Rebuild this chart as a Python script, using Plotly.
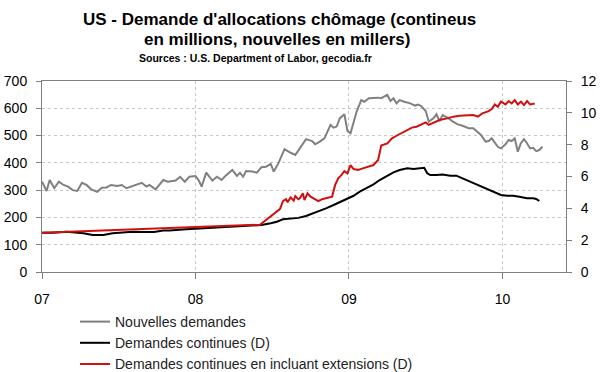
import plotly.graph_objects as go

# ---- data (decimal years) ----
new_x = [2007.00, 2007.03, 2007.05, 2007.08, 2007.11, 2007.14, 2007.17, 2007.20, 2007.23, 2007.26,
         2007.29, 2007.32, 2007.36, 2007.39, 2007.42, 2007.45, 2007.49, 2007.52, 2007.55, 2007.58,
         2007.62, 2007.65, 2007.68, 2007.70, 2007.74, 2007.77, 2007.79, 2007.82,
         2007.87, 2007.90, 2007.93, 2007.96, 2008.00, 2008.02, 2008.04, 2008.07, 2008.11, 2008.14,
         2008.17, 2008.20, 2008.24, 2008.27, 2008.29, 2008.31, 2008.33, 2008.37, 2008.40, 2008.43,
         2008.46, 2008.49, 2008.51, 2008.54, 2008.56, 2008.58, 2008.62, 2008.65, 2008.67,
         2008.70, 2008.72, 2008.76, 2008.78, 2008.81, 2008.84, 2008.88, 2008.90, 2008.92, 2008.94,
         2008.97, 2008.99, 2009.01, 2009.03, 2009.05, 2009.08, 2009.10, 2009.13, 2009.16, 2009.19,
         2009.21, 2009.25, 2009.27, 2009.29, 2009.31, 2009.33, 2009.36, 2009.40, 2009.43, 2009.45,
         2009.47, 2009.50, 2009.52, 2009.55, 2009.57, 2009.59, 2009.61, 2009.65, 2009.68, 2009.71,
         2009.74, 2009.78, 2009.81, 2009.84, 2009.86, 2009.89, 2009.91, 2009.93, 2009.95, 2009.97,
         2009.99, 2010.02, 2010.04, 2010.06, 2010.08, 2010.10, 2010.12, 2010.14, 2010.16, 2010.18,
         2010.20, 2010.22, 2010.24, 2010.26]
new_claims = [331, 297, 337, 307, 331, 319, 313, 300, 297, 327,
              319, 303, 294, 309, 310, 319, 315, 319, 307, 313,
              322, 327, 313, 319, 303, 321, 337, 331,
              335, 349, 331, 349, 352, 337, 313, 364, 335, 349,
              337, 355, 374, 352, 364, 349, 370, 368, 364, 384,
              386, 396, 368, 398, 423, 450, 437, 429, 445,
              468, 487, 480, 468, 478, 490, 539, 529, 533, 563,
              578, 517, 508, 551, 588, 630, 624, 637, 639, 639,
              637, 649, 627, 637, 618, 630, 624, 618, 610, 614,
              608, 590, 551, 563, 578, 553, 575, 563, 550, 541,
              536, 527, 527, 514, 502, 478, 480, 490, 472, 459,
              453, 468, 484, 480, 490, 441, 472, 487, 472, 453,
              455, 443, 447, 459]

cont_x = [2007.00, 2007.07, 2007.16, 2007.23, 2007.27, 2007.33, 2007.40, 2007.46, 2007.53, 2007.59,
          2007.66, 2007.73, 2007.79, 2007.83, 2007.94, 2008.05, 2008.16, 2008.27, 2008.38, 2008.43,
          2008.49, 2008.53, 2008.57, 2008.62, 2008.67, 2008.72, 2008.77, 2008.81, 2008.85, 2008.90,
          2008.94, 2008.99, 2009.03, 2009.07, 2009.12, 2009.16, 2009.20, 2009.25, 2009.29, 2009.33,
          2009.38, 2009.42, 2009.46, 2009.49, 2009.51, 2009.53, 2009.57, 2009.61, 2009.66, 2009.70,
          2009.74, 2009.79, 2009.83, 2009.87, 2009.92, 2009.96, 2009.99, 2010.03, 2010.07, 2010.11,
          2010.16, 2010.20, 2010.22, 2010.24]
cont_claims = [2.47, 2.47, 2.53, 2.49, 2.43, 2.32, 2.32, 2.43, 2.49, 2.53,
               2.51, 2.51, 2.60, 2.60, 2.68, 2.74, 2.81, 2.89, 2.95, 2.95,
               3.06, 3.16, 3.31, 3.37, 3.40, 3.52, 3.69, 3.83, 4.00, 4.21,
               4.38, 4.63, 4.79, 5.05, 5.30, 5.51, 5.78, 6.05, 6.26, 6.41,
               6.51, 6.47, 6.51, 6.55, 6.20, 6.09, 6.09, 6.13, 6.05, 6.05,
               5.88, 5.67, 5.51, 5.36, 5.15, 5.00, 4.84, 4.79, 4.79, 4.73,
               4.63, 4.63, 4.59, 4.46]

ext_x = [2007.00, 2008.42, 2008.55, 2008.57, 2008.59, 2008.60, 2008.62, 2008.64, 2008.65, 2008.67,
         2008.68, 2008.70, 2008.71, 2008.73, 2008.75, 2008.77, 2008.80, 2008.83, 2008.87, 2008.89,
         2008.91, 2008.93, 2008.95, 2008.97, 2008.99, 2009.01, 2009.03, 2009.06, 2009.09, 2009.13,
         2009.16, 2009.19, 2009.21, 2009.25, 2009.28, 2009.31, 2009.34, 2009.38, 2009.41, 2009.44,
         2009.47, 2009.50, 2009.52, 2009.56, 2009.59, 2009.64, 2009.68, 2009.72, 2009.77, 2009.81,
         2009.84, 2009.87, 2009.91, 2009.93, 2009.95, 2009.97, 2009.99, 2010.02, 2010.04, 2010.06,
         2010.08, 2010.10, 2010.12, 2010.14, 2010.16, 2010.18, 2010.21]
ext_claims = [2.47, 2.97, 3.95, 4.45, 4.57, 4.38, 4.69, 4.48, 4.77, 4.57,
              4.63, 4.94, 4.52, 4.94, 4.73, 4.63, 4.46, 4.59, 4.67, 4.73,
              5.47, 5.88, 6.09, 6.34, 6.20, 6.72, 6.47, 6.41, 6.51, 6.62,
              6.72, 7.04, 7.94, 8.08, 8.40, 8.56, 8.71, 8.92, 9.07, 9.13,
              9.28, 9.40, 9.24, 9.40, 9.55, 9.65, 9.76, 9.82, 9.82, 9.86,
              9.76, 9.97, 10.11, 10.24, 10.53, 10.38, 10.70, 10.53, 10.74, 10.59,
              10.80, 10.53, 10.70, 10.49, 10.74, 10.53, 10.59]

year_ticks = [2007, 2008, 2009, 2010]
year_labels = ["07", "08", "09", "10"]
left_ticks = [0, 100, 200, 300, 400, 500, 600, 700]
right_ticks = [0, 2, 4, 6, 8, 10, 12]

title_lines = ["US - Demande d'allocations chômage (contineus",
               "en millions, nouvelles en millers)"]
subtitle = "Sources : U.S. Department of Labor, gecodia.fr"

FONT = "Liberation Sans, Arial, sans-serif"
AX = "#808080"

# plot area in pixels
PL, PR, PT, PB = 42, 566, 81, 272
W, H = 600, 372


def px_to_paper(px, py):
    return (px - PL) / (PR - PL), (PB - py) / (PB - PT)


fig = go.Figure()
fig.add_trace(go.Scatter(x=new_x, y=new_claims, mode="lines", name="Nouvelles demandes",
                         line=dict(color="#808080", width=2), yaxis="y"))
fig.add_trace(go.Scatter(x=cont_x, y=cont_claims, mode="lines", name="Demandes continues (D)",
                         line=dict(color="#000000", width=2), yaxis="y2"))
fig.add_trace(go.Scatter(x=ext_x, y=ext_claims, mode="lines",
                         name="Demandes continues en incluant extensions (D)",
                         line=dict(color="#d01010", width=2), yaxis="y2"))

annotations = []
for text, (px, py, fs) in zip(title_lines + [subtitle],
                              [(279, 19.5, 17), (277, 39, 17), (255, 58.5, 10.5)]):
    ax_, ay_ = px_to_paper(px, py)
    annotations.append(dict(text="<b>" + text + "</b>", x=ax_, y=ay_, xref="paper", yref="paper",
                            xanchor="center", yanchor="middle", showarrow=False,
                            font=dict(family=FONT, size=fs, color="#000000")))

lx, ly = px_to_paper(75, 306)

fig.update_layout(
    width=W, height=H,
    margin=dict(l=PL, r=W - PR, t=PT, b=H - PB, autoexpand=False),
    paper_bgcolor="white", plot_bgcolor="white",
    font=dict(family=FONT, size=14, color="#000000"),
    showlegend=True,
    legend=dict(x=lx, y=ly, xanchor="left", yanchor="top",
                font=dict(family=FONT, size=14, color="#222222"),
                itemwidth=30, tracegroupgap=0, bgcolor="rgba(0,0,0,0)"),
    xaxis=dict(range=[2007, 2010.414], tickvals=year_ticks, ticktext=year_labels,
               showgrid=True, griddash="dot", gridcolor="#c8c8c8", gridwidth=1,
               showline=True, linecolor=AX, linewidth=1, mirror=True,
               ticks="outside", ticklen=6, tickcolor=AX, ticklabelstandoff=8,
               tickfont=dict(size=14), zeroline=False),
    yaxis=dict(range=[0, 700], tickvals=left_ticks,
               showgrid=True, griddash="dot", gridcolor="#c8c8c8", gridwidth=1,
               showline=True, linecolor=AX, linewidth=1,
               ticks="outside", ticklen=5, tickcolor=AX, ticklabelstandoff=6,
               tickfont=dict(size=14), zeroline=False),
    yaxis2=dict(range=[0, 12], tickvals=right_ticks, overlaying="y", side="right",
                showgrid=False, showline=True, linecolor=AX, linewidth=1,
                ticks="outside", ticklen=5, tickcolor=AX, ticklabelstandoff=6,
                tickfont=dict(size=14), zeroline=False),
    # inner halves of the crossing tick marks
    yaxis3=dict(range=[0, 700], tickvals=left_ticks, overlaying="y", side="left", anchor="x",
                showgrid=False, showline=False, ticks="inside", ticklen=5, tickcolor=AX,
                showticklabels=False, zeroline=False),
    yaxis4=dict(range=[0, 12], tickvals=right_ticks, overlaying="y", side="right", anchor="x",
                showgrid=False, showline=False, ticks="inside", ticklen=5, tickcolor=AX,
                showticklabels=False, zeroline=False),
    annotations=annotations,
)

fig.write_html("out.html", config={"displayModeBar": False},
               post_script="document.body.style.margin='0';")
